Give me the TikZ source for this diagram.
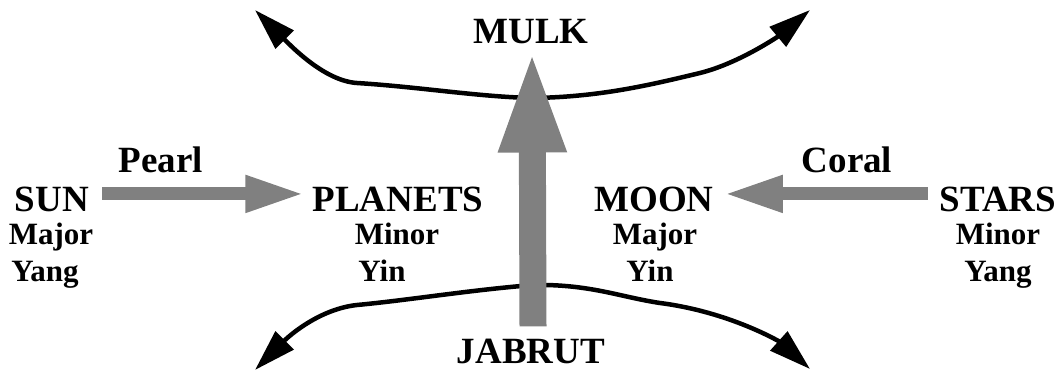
\documentclass[tikz,border=0pt]{standalone}
\usepackage{fontspec}
\setmainfont{Liberation Serif}
\usetikzlibrary{arrows.meta}

\begin{document}
\begin{tikzpicture}[x=1pt, y=-1pt,
  big/.style={font=\fontsize{37}{40}\selectfont\bfseries, inner sep=0pt, anchor=base},
  small/.style={font=\fontsize{31}{34}\selectfont\bfseries, inner sep=0pt, anchor=base},
  ray/.style={draw=gray, line width=13pt, -{Triangle[length=59pt, width=34pt]}},
  flow/.style={line width=4.5pt, -{Triangle[length=42pt, width=25pt]}}]
\useasboundingbox (0,0) rectangle (1060,371);
% heavenly bodies
\node[big] (sun) at (52,212) {SUN};
\node[small] (sunA) at (51,245) {Major};
\node[small] (sunB) at (45,282) {Yang};
\node[big] (planets) at (398,212) {PLANETS};
\node[small] (planetsA) at (397,245) {Minor};
\node[small] (planetsB) at (382,282) {Yin};
\node[big] (moon) at (654,212) {MOON};
\node[small] (moonA) at (655,245) {Major};
\node[small] (moonB) at (650,282) {Yin};
\node[big] (stars) at (998,212) {STARS};
\node[small] (starsA) at (998,245) {Minor};
\node[small] (starsB) at (998,282) {Yang};
\node[big] (pearl) at (161,173) {Pearl};
\node[big] (coral) at (847,173) {Coral};
\node[big] (mulk) at (531,44) {MULK};
\node[big] (jabrut) at (531,363) {JABRUT};
\coordinate (topc) at (533,98);
\coordinate (botc) at (533,285);
% black curves
\draw[flow] (topc) .. controls (480,97) and (420,87) .. (357,83) .. controls (325,81) and (292,47) .. (255,10);
\draw[flow] (topc) .. controls (600,97) and (650,85) .. (700,73) .. controls (740,63) and (780,35) .. (810,10);
\draw[flow] (botc) .. controls (470,290) and (410,300) .. (357,305) .. controls (320,309) and (290,335) .. (255,370);
\draw[flow] (botc) .. controls (590,284) and (620,297) .. (660,303) .. controls (730,312) and (780,342) .. (810,369);
% gray arrows
\draw[ray] ([xshift=13pt,yshift=6pt]sun.east) -- ([xshift=-8pt,yshift=6pt]planets.west);
\draw[ray] ([xshift=-12pt,yshift=6pt]stars.west) -- ([xshift=10pt,yshift=6pt]moon.east);
\draw[ray, line width=27pt, -{Triangle[length=105pt, width=60pt]}] ([xshift=2pt,yshift=12pt]jabrut.north) -- ([xshift=1pt,yshift=-3pt]mulk.south);
\end{tikzpicture}
\end{document}
